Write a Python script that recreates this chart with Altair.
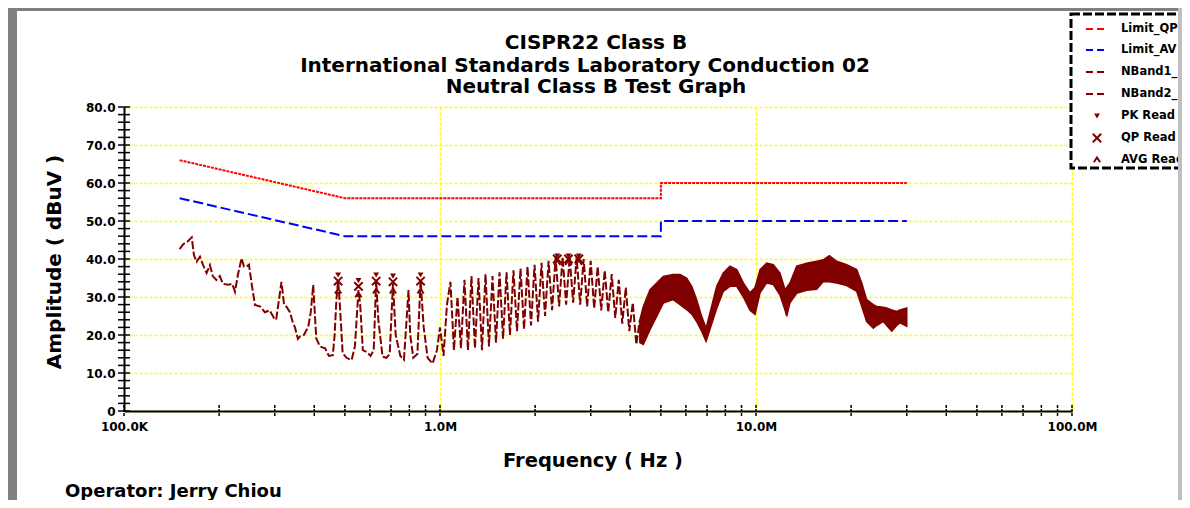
import altair as alt
import pandas as pd

FONT = "DejaVu Sans"
DARK = "#800000"

# ---------------- data ----------------
# limit lines (Hz, dBuV)
qp_lim_f = [150e3, 500e3, 5e6, 5e6, 30e6]
qp_lim_v = [66, 56, 56, 60, 60]
av_lim_f = [150e3, 500e3, 5e6, 5e6, 30e6]
av_lim_v = [56, 46, 46, 50, 50]

# measured trace 150 kHz - 1 MHz (kHz, dBuV)
low_f_khz = [150, 154, 158.5, 163.8, 166.5, 169.8, 174, 177.7, 182.6, 187,
             191, 196, 201, 205.5, 213.5, 220, 224.5, 229.5, 235.5, 239.6,
             244.5, 248.6, 254, 259.7, 270, 279, 289, 298, 303, 309,
             315, 321, 327, 335, 343, 347, 355, 360, 371, 383,
             390, 397, 402, 406, 417, 433, 445, 458, 464, 470,
             476, 482, 492, 506, 525, 538, 552, 559, 570, 587,
             603, 617, 628, 638, 658, 677, 693, 710, 724, 749,
             769, 795, 805, 823, 848, 868, 888, 914, 947, 978]
low_v = [42.6, 43.9, 44.5, 45.7, 41, 39.3, 40.6, 38.5, 36.3, 38.4,
         35.5, 34.5, 35.5, 33.5, 33.2, 33.5, 31.4, 36, 40.2, 38,
         38, 38.5, 33, 27.9, 27.5, 26, 26.5, 24.5, 24, 29,
         34, 28, 27.4, 26, 23, 22.2, 19, 19.6, 20, 22.2,
         26, 33.2, 25, 19.1, 17, 16.5, 14.5, 14.7, 20, 29.2,
         34.5, 28, 15.2, 14, 13.4, 17, 31.8, 28, 16, 15.5,
         14.5, 16, 34.5, 24, 14.3, 14, 15, 33.6, 20, 14.5,
         13.5, 31.8, 20, 14, 15, 34.5, 22, 14, 12.5, 16]

# measured trace 1 MHz - 4.3 MHz, spiky part (MHz, dBuV)
spk_f_mhz = [1.000, 1.026, 1.052, 1.079, 1.107, 1.136, 1.165, 1.195, 1.226, 1.258,
             1.290, 1.324, 1.358, 1.393, 1.429, 1.466, 1.504, 1.543, 1.583, 1.624,
             1.665, 1.708, 1.753, 1.798, 1.845, 1.892, 1.941, 1.992, 2.043, 2.096,
             2.150, 2.206, 2.263, 2.322, 2.382, 2.443, 2.507, 2.572, 2.638, 2.706,
             2.777, 2.848, 2.922, 2.998, 3.076, 3.155, 3.237, 3.321, 3.407, 3.495,
             3.586, 3.679, 3.774, 3.872, 3.972, 4.075, 4.181, 4.289]
spk_v = [22, 14.5, 28, 34, 16, 30, 16.5, 34.5, 16, 35.5,
         16.5, 35, 16, 36, 17, 35.5, 18, 36.5, 19, 36.5,
         20, 37, 21, 37.5, 21.5, 38, 22.5, 38.5, 23.5, 39,
         25, 39.5, 26.5, 40.5, 27.5, 40.5, 28, 40.5, 28.5, 40.5,
         28, 40, 27.5, 39.5, 27, 38, 26.5, 37, 26, 36,
         24.5, 34.5, 23, 32.5, 21, 28.5, 17.5, 24]

# dense part 4.3 MHz - 30 MHz: lower / upper envelope of the trace (MHz, dBuV)
band_f_mhz = [4.29, 4.40, 4.62, 4.85, 5.09, 5.47, 5.75, 6.03, 6.26, 6.49,
              6.73, 6.95, 7.15, 7.51, 7.88, 8.27, 8.69, 9.12, 9.57, 9.93,
              10.30, 10.81, 11.34, 11.91, 12.36, 12.51, 12.81, 13.45, 14.47, 15.56,
              16.33, 17.06, 18.01, 19.36, 20.83, 21.61, 22.40, 23.51, 24.10, 25.28,
              25.92, 26.88, 27.88, 28.56, 30.0]
band_lo = [18, 17.5, 21.4, 24.9, 28.4, 29.3, 28, 26.7, 25.5, 23.5,
           21, 18.3, 21.5, 27, 31.5, 32.8, 32.8, 30, 26.5, 25.4,
           31.1, 33.7, 33.3, 30.5, 26.5, 24.9, 28.5, 31, 31.8, 32,
           34.1, 34, 33.7, 33, 31.5, 27.5, 23.5, 21.8, 22.5, 23.6,
           22.5, 21, 22.5, 23.2, 22.3]
band_hi = [24, 27.5, 31.9, 33.7, 35.4, 35.9, 35.9, 35, 32.8, 29.3,
           24.9, 21.8, 25.8, 32.8, 36.3, 38.1, 37.2, 33.7, 31.1, 32.5,
           37.2, 38.9, 38.5, 36.3, 31.9, 32.5, 33.7, 38.1, 38.9, 39.4,
           39.8, 40.9, 39.4, 38.5, 37.2, 33.7, 29.3, 28, 27.5, 27.3,
           27.1, 26.6, 26.2, 26.6, 27.1]

# readings (Hz, dBuV)
read_f = [476e3, 552e3, 628e3, 710e3, 868e3, 2.35e6, 2.55e6, 2.75e6]
pk_v = [35.8, 34.3, 35.8, 35.5, 35.8, 40.8, 40.8, 40.8]
qp_v = [34.2, 32.8, 34.2, 34.0, 34.2, 40.0, 40.0, 40.0]
avg_v = [31.5, 30.5, 31.5, 31.5, 31.5, 39.0, 39.0, 39.0]

# axis ticks
x_tick_vals = [1e5, 1e6, 1e7, 1e8]
y_tick_vals = [0, 10, 20, 30, 40, 50, 60, 70, 80]
x_minor = [m * 10 ** e for e in (5, 6, 7) for m in range(1, 10)] + [1e8]
y_minor = list(range(0, 81, 2))

title_lines = ["CISPR22 Class B",
               "International Standards Laboratory Conduction 02",
               "Neutral Class B Test Graph"]
legend_labels = ["Limit_QP", "Limit_AV", "NBand1_1", "NBand2_1", "PK Read", "QP Read", "AVG Read"]

# ---------------- frames ----------------
qp_df = pd.DataFrame({"freq": qp_lim_f, "db": qp_lim_v, "i": range(len(qp_lim_f))})
av_df = pd.DataFrame({"freq": av_lim_f, "db": av_lim_v, "i": range(len(av_lim_f))})
trace_df = pd.DataFrame({
    "freq": [f * 1e3 for f in low_f_khz] + [f * 1e6 for f in spk_f_mhz],
    "db": low_v + spk_v,
})
trace_df["i"] = range(len(trace_df))
band_df = pd.DataFrame({"freq": [f * 1e6 for f in band_f_mhz], "lo": band_lo, "hi": band_hi})
pk_df = pd.DataFrame({"freq": read_f, "db": pk_v})
qpr_df = pd.DataFrame({"freq": read_f, "db": qp_v})
avr_df = pd.DataFrame({"freq": read_f, "db": avg_v})
xt_df = pd.DataFrame({"freq": x_minor})
yt_df = pd.DataFrame({"db": y_minor})
one = pd.DataFrame({"k": [0]})

# ---------------- layout ----------------
W, H = 948, 304
OX, OY = 124, 107  # page position of plot origin
PAD_L, PAD_T = OX - 8, OY - 8
TOTAL_W, TOTAL_H = 1174, 492


def px(X):
    return X - OX


def py(Y):
    return Y - OY


xscale = alt.Scale(type="log", domain=[1e5, 1e8], nice=False)
yscale = alt.Scale(domain=[0, 80], nice=False, zero=False)
common_axis = dict(grid=True, gridColor="#ffff00", gridDash=[3, 2], gridWidth=1.5,
                   domainColor="black", domainWidth=2, ticks=False, tickSize=0,
                   labelFont=FONT, labelFontSize=12, labelFontWeight="bold",
                   labelColor="black", title="", labelOverlap=False)
xaxis = alt.Axis(values=x_tick_vals,
                 labelExpr="datum.value >= 1e6 ? format(datum.value/1e6, '.1f') + 'M' : format(datum.value/1e3, '.1f') + 'K'",
                 labelPadding=10, labelFlush=False, **common_axis)
yaxis = alt.Axis(values=y_tick_vals,
                 labelExpr="datum.value == 0 ? '0' : format(datum.value, '.1f')",
                 labelPadding=9, **common_axis)
X = alt.X("freq:Q", scale=xscale, axis=xaxis)
Y = alt.Y("db:Q", scale=yscale, axis=yaxis)

layers = []
# limit lines
layers.append(alt.Chart(qp_df).mark_line(color="#ff0000", strokeWidth=2, strokeDash=[3, 1])
              .encode(x=X, y=Y, order="i:Q"))
layers.append(alt.Chart(av_df).mark_line(color="#0000ff", strokeWidth=2, strokeDash=[10, 4])
              .encode(x=X, y=Y, order="i:Q"))
# measured trace
layers.append(alt.Chart(trace_df).mark_line(color=DARK, strokeWidth=2, strokeDash=[8, 2.5])
              .encode(x=X, y=Y, order="i:Q"))
layers.append(alt.Chart(band_df).mark_area(color=DARK, opacity=1, stroke=DARK, strokeWidth=1.5)
              .encode(x=X, y=alt.Y("lo:Q", scale=yscale, axis=yaxis), y2="hi:Q"))
# readings
XSHAPE = "M-1,-1L1,1M-1,1L1,-1"
ASHAPE = "M-1,0.7L0,-0.8L1,0.7"
layers.append(alt.Chart(avr_df).mark_point(shape=ASHAPE, filled=False, color=DARK, strokeWidth=2, size=40, opacity=1)
              .encode(x=X, y=Y))
layers.append(alt.Chart(qpr_df).mark_point(shape=XSHAPE, filled=False, color=DARK, strokeWidth=2, size=70, opacity=1)
              .encode(x=X, y=Y))
layers.append(alt.Chart(pk_df).mark_point(shape="triangle-down", filled=True, color=DARK, size=35, opacity=1)
              .encode(x=X, y=Y))
# axis ticks (crossing the axis lines)
layers.append(alt.Chart(xt_df).mark_rule(color="black", strokeWidth=1.5, strokeDash=[3, 1])
              .encode(x=X, y=alt.value(H - 6), y2=alt.value(H + 6)))
layers.append(alt.Chart(yt_df).mark_rule(color="black", strokeWidth=1.5)
              .encode(y=Y, x=alt.value(-6), x2=alt.value(6)))


def txt(X_, Y_, s, size, align="center", angle=0, baseline="middle"):
    kw = dict(font=FONT, fontSize=size, fontWeight="bold", color="black", align=align, baseline=baseline)
    if angle:
        kw["angle"] = angle
    return alt.Chart(one).mark_text(**kw).encode(x=alt.value(px(X_)), y=alt.value(py(Y_)), text=alt.value(s))


def rect(x1, x2, y1, y2, **mk):
    return alt.Chart(one).mark_rect(**mk).encode(
        x=alt.value(px(x1)), x2=alt.value(px(x2)), y=alt.value(py(y1)), y2=alt.value(py(y2)))


def rule(x1, x2, y1, y2, **mk):
    return alt.Chart(one).mark_rule(**mk).encode(
        x=alt.value(px(x1)), x2=alt.value(px(x2)), y=alt.value(py(y1)), y2=alt.value(py(y2)))


# titles
for s, xc, yb in zip(title_lines, [596, 585, 596], [49, 72, 93]):
    layers.append(txt(xc, yb, s, 20, baseline="alphabetic"))
layers.append(txt(55, 262, "Amplitude ( dBuV )", 20, angle=270))
layers.append(txt(593, 461, "Frequency ( Hz )", 19.5))
layers.append(txt(65, 492, "Operator: Jerry Chiou", 18, align="left"))

# legend box
layers.append(rect(1071, 1200, 14, 168, fill="white", stroke="black", strokeWidth=3, strokeDash=[9, 3]))
leg_y = [29, 50, 72, 94, 116, 138, 160]
line_styles = [("#ff0000", [7, 4]), ("#0000ff", [7, 4]), (DARK, [7, 4]), (DARK, [7, 4])]
for i, lab in enumerate(legend_labels):
    yy = leg_y[i]
    if i < 4:
        col, dash = line_styles[i]
        layers.append(rule(1086, 1108, yy, yy, color=col, strokeWidth=2, strokeDash=dash))
    else:
        if i == 4:
            mk = dict(shape="triangle-down", filled=True, size=35)
        elif i == 5:
            mk = dict(shape=XSHAPE, filled=False, strokeWidth=2, size=70)
        else:
            mk = dict(shape=ASHAPE, filled=False, strokeWidth=2, size=40)
        layers.append(alt.Chart(one).mark_point(color=DARK, opacity=1, **mk)
                      .encode(x=alt.value(px(1097)), y=alt.value(py(yy))))
    layers.append(txt(1121, yy, lab, 11.5, align="left"))

# window frame
layers.append(rect(8, 17, 8, 520, fill="#808080"))
layers.append(rect(8, 1178, 8, 11, fill="#808080"))
layers.append(rect(1178, 1187, 8, 520, fill="#c0c0c0"))

chart = alt.layer(*layers).properties(
    width=W, height=H,
    autosize=alt.AutoSizeParams(type="none"),
    padding={"left": PAD_L, "top": PAD_T, "right": TOTAL_W - PAD_L - W, "bottom": TOTAL_H - PAD_T - H},
    background="white",
).configure_view(strokeWidth=0)

chart.save("out.html", embed_options={"renderer": "svg", "actions": False})
